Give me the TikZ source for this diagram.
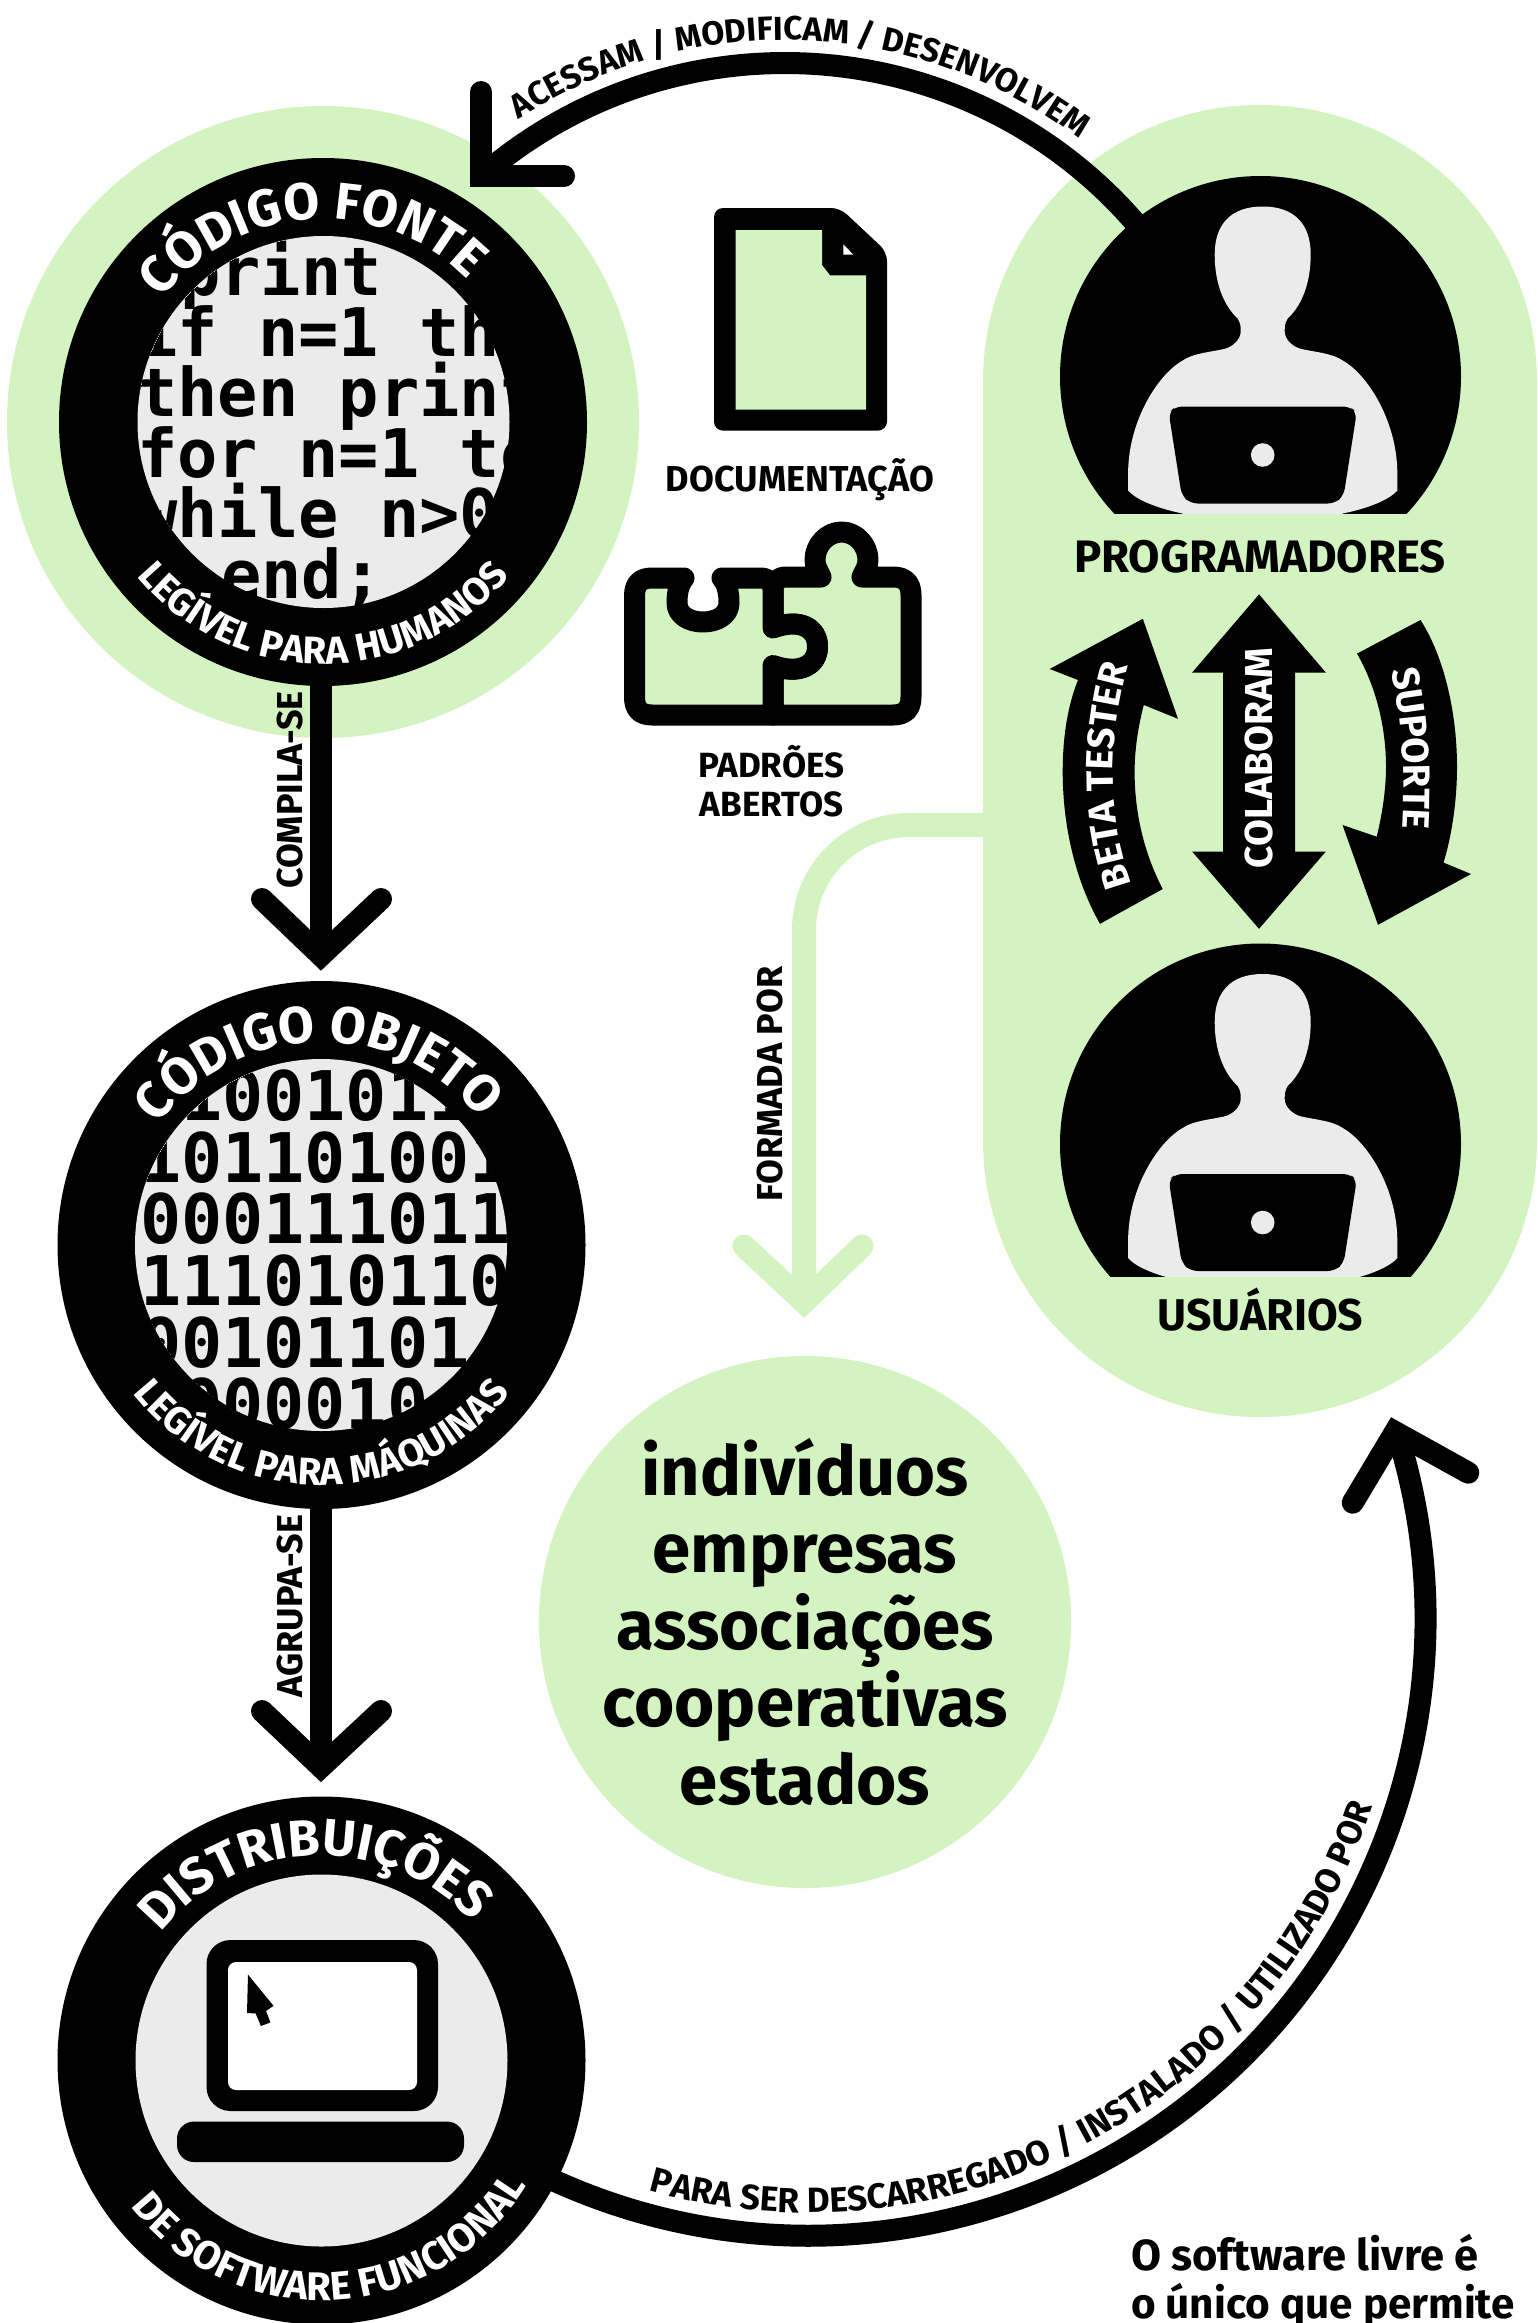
\documentclass[tikz,border=0pt]{standalone}
\usepackage{fontspec}
\setmainfont{Fira Sans}
\newfontfamily\codefam{DejaVu Sans Mono}
\usetikzlibrary{decorations.text,calc}
\definecolor{leaf}{HTML}{D3F4C0}
\definecolor{pale}{HTML}{EBEBEB}
\newcommand{\fsz}[1]{\bfseries\fontsize{#1}{#1}\selectfont}
\tikzset{
  x=1pt,y=1pt,
  ring/.style={circle,fill=black,inner sep=0pt,outer sep=0pt,minimum size=528pt},
  conn/.style={draw=black,line width=22pt,line cap=round,line join=miter},
  connflat/.style={draw=black,line width=22pt,line cap=butt},
  greenconn/.style={draw=leaf,line width=23pt,line cap=round,line join=miter},
  lbl/.style={font=\fsz{36},inner sep=0pt,text=black},
  code/.style={font=\codefam\fsz{67},inner sep=0pt,anchor=base west,text=black},
  bincode/.style={font=\codefam\fsz{68.4},inner sep=0pt,anchor=base west,text=black},
  whitearc/.style={decorate,decoration={text along path,text={#1},text align=center,text color=white}},
  blackarc/.style={decorate,decoration={text along path,text={#1},text align=center,text color=black}},
  puzzlepiece/.style={fill=leaf,draw=black,line width=21pt,line join=round},
  person/.pic={
    \begin{scope}
      \clip (-215,215) rectangle (215,-\pgfkeysvalueof{/tikz/cutline});
      \fill[black] (-2.2,0) circle[radius=200.5pt];
      \fill[pale] (0,170) .. controls (32,170) and (48,152) .. (48,122)
        .. controls (48,95) and (40,72) .. (25,58)
        .. controls (22,53) and (22,50) .. (22,45)
        .. controls (22,37) and (30,29.5) .. (38.7,27.5)
        .. controls (55,24) and (70,23) .. (80,16)
        .. controls (105,2) and (134.6,-45) .. (134.6,-97) -- (134.6,-114)
        .. controls (125,-125) and (100,-133) .. (80,-137) -- (80,-145) -- (-80,-145) -- (-80,-137)
        .. controls (-100,-133) and (-125,-125) .. (-134.6,-114) -- (-134.6,-97)
        .. controls (-134.6,-45) and (-105,2) .. (-80,16)
        .. controls (-70,23) and (-55,24) .. (-38.7,27.5)
        .. controls (-30,29.5) and (-22,37) .. (-22,45)
        .. controls (-22,50) and (-22,53) .. (-25,58)
        .. controls (-40,72) and (-48,95) .. (-48,122)
        .. controls (-48,152) and (-32,170) .. (0,170) -- cycle;
      \fill[black,rounded corners=7pt] (-94,-36) -- (-87,-30) -- (87,-30) -- (94,-36) -- (81,-119) -- (72,-127) -- (-72,-127) -- (-81,-119) -- cycle;
      \fill[pale] (0,-78.5) circle[radius=11.8pt];
    \end{scope}
  }
}
\pgfkeyssetvalue{/tikz/cutline}{136.5}
\begin{document}
\begin{tikzpicture}
\path[use as bounding box,clip] (0,0) rectangle (1537,-2323);
\fill[white] (0,0) rectangle (1537,-2323);

% green backgrounds
\fill[leaf] (323,-422) circle[radius=316pt];
\node[rectangle,rounded corners=277pt,fill=leaf,inner sep=0pt,outer sep=0pt,minimum width=554pt,minimum height=1312pt] (capsule) at (1260,-761) {};
\node[circle,fill=leaf,inner sep=0pt,outer sep=0pt,minimum size=532pt,align=center,font=\fsz{69},text=black] (people) at (805,-1622) {};

% ring nodes
\node[ring] (fonte) at (323,-422) {};
\node[ring] (objeto) at (321.5,-1245) {};
\node[ring] (distro) at (321.5,-2060.5) {};

% connectors
\coordinate (c1apex) at (321,-955.5);
\coordinate (c1l) at (262,-899);
\coordinate (c1r) at (381,-899);
\draw[connflat] (fonte.south) ++(-2,5) -- (c1apex);
\draw[conn] (c1l) -- (c1apex) -- (c1r);
\node[lbl,rotate=90] (lcomp) at (290,-790) {COMPILA-SE};

\coordinate (c2apex) at (321,-1767);
\coordinate (c2l) at (262,-1711);
\coordinate (c2r) at (381,-1711);
\draw[connflat] (objeto.south) ++(-0.5,5) -- (c2apex);
\draw[conn] (c2l) -- (c2apex) -- (c2r);
\node[lbl,rotate=90] (lagr) at (290,-1606) {AGRUPA-SE};

% formada por (green)
\coordinate (fs) at (990,-825);
\coordinate (fapex) at (804,-1302);
\coordinate (fl) at (744,-1246);
\coordinate (fr) at (862,-1246);
\draw[draw=leaf,line width=24pt,rounded corners=105pt] (fs) -- (804,-825) -- (fapex);
\draw[greenconn] (fl) -- (fapex) -- (fr);
\node[lbl,rotate=90] (lform) at (770,-1084) {FORMADA POR};

% top arc connector
\coordinate (tapex) at (481,-176);
\coordinate (tstart) at ($(785,-527)+(41.1:464)$);
\draw[connflat] (tstart) arc[start angle=41.1,end angle=130.9,radius=464pt];
\draw[conn] (481,-92) coordinate (tu) -- (tapex) -- (564,-176) coordinate (tr);
\path[blackarc={|\fsz{33.3}|ACESSAM / MODIFICAM / DESENVOLVEM}] (785,-527) ++(138:487) arc[start angle=138,end angle=38,radius=487pt];

% bottom arc connector
\coordinate (bstart) at ($(808.6,-1618.6)+(245.5:617)$);
\coordinate (bapex) at (1395,-1432);
\coordinate (bl) at (1352.7,-1502.7);
\coordinate (br) at (1468.3,-1472.7);
\draw[connflat] (bstart) arc[start angle=245.5,end angle=377.65,radius=617pt];
\draw[conn] (bl) -- (bapex) -- (br);
\path[blackarc={|\fsz{35}|PARA SER DESCARREGADO / INSTALADO / UTILIZADO POR}] (808.6,-1618.6) ++(238:594) arc[start angle=238,end angle=358,radius=594pt];

% inner discs and code
\fill[pale] (323.5,-422) circle[radius=186pt];
\begin{scope}
  \clip (323.5,-422) circle[radius=186pt];
  \node[code] (cl1) at (180,-295) {print};
  \node[code] (cl2) at (137,-356) {if n=1 then};
  \node[code] (cl3) at (137,-416) {then print};
  \node[code] (cl4) at (137,-477) {for n=1 to};
  \node[code] (cl5) at (137,-537.5) {while n>0};
  \node[code] (cl6) at (221,-598) {end;};
\end{scope}
\fill[pale] (321,-1245) circle[radius=186pt];
\begin{scope}
  \clip (321,-1245) circle[radius=186pt];
  \node[bincode] (bn1) at (181,-1120) {1001011};
  \node[bincode] (bn2) at (140,-1182) {101101001};
  \node[bincode] (bn3) at (140,-1243.5) {000111011};
  \node[bincode] (bn4) at (140,-1305) {111010110};
  \node[bincode] (bn5) at (140,-1367) {00101101};
  \node[bincode] (bn6) at (181,-1428) {000010};
\end{scope}
\fill[pale] (321.5,-2060.5) circle[radius=186pt];

% ring texts
\path[whitearc={|\fsz{52}|CÓDIGO FONTE}] (323,-422) ++(173.5:203) arc[start angle=173.5,end angle=13.5,radius=203pt];
\path[whitearc={|\fsz{38.5}|LEGÍVEL PARA HUMANOS}] (323,-422) ++(195:242) arc[start angle=195,end angle=345,radius=242pt];
\path[whitearc={|\fsz{52}|CÓDIGO OBJETO}] (321.5,-1245) ++(171:203) arc[start angle=171,end angle=11,radius=203pt];
\path[whitearc={|\fsz{38.5}|LEGÍVEL PARA MÁQUINAS}] (321.5,-1245) ++(195:240) arc[start angle=195,end angle=345,radius=240pt];
\path[whitearc={|\fsz{51.5}|DISTRIBUIÇÕES}] (321.5,-2060.5) ++(172:205) arc[start angle=172,end angle=12,radius=205pt];
\path[whitearc={|\fsz{40}|DE SOFTWARE FUNCIONAL}] (321.5,-2060.5) ++(198:240) arc[start angle=198,end angle=348,radius=240pt];

% computer
\fill[black,rounded corners=24pt] (206.5,-1940) rectangle (438,-2111);
\fill[white,rounded corners=8pt] (228,-1962) rectangle (417,-2090);
\fill[black,rounded corners=17pt] (177,-2121.5) rectangle (464,-2162);
\fill[black] (248,-1974.6) -- (273.5,-2005.8) -- (266,-2011) -- (270.4,-2022.4) -- (261,-2026) -- (255.6,-2013.4) -- (247,-2013) -- cycle;

% central text
\node[font=\fsz{68.5},text=black,anchor=base,inner sep=0pt] (p1) at (805,-1495) {indivíduos};
\node[font=\fsz{69},text=black,anchor=base,inner sep=0pt] (p2) at (805,-1572) {empresas};
\node[font=\fsz{69},text=black,anchor=base,inner sep=0pt] (p3) at (805,-1649) {associações};
\node[font=\fsz{69},text=black,anchor=base,inner sep=0pt] (p4) at (805,-1726) {cooperativas};
\node[font=\fsz{69},text=black,anchor=base,inner sep=0pt] (p5) at (805,-1804) {estados};

% document icon
\fill[black,rounded corners=9pt] (714,-208) -- (840,-208) -- (887,-252) -- (887,-430.6) -- (714,-430.6) -- cycle;
\fill[leaf] (735.7,-230) -- (822,-230) -- (822,-265) -- (830,-275.4) -- (866,-275.4) -- (866,-409.5) -- (735.7,-409.5) -- cycle;
\fill[white] (843.3,-244.3) -- (853.3,-254.7) -- (843.3,-254.7) -- cycle;
\node[font=\fsz{36},text=black,anchor=base,inner sep=0pt] (ldoc) at (800,-491) {DOCUMENTAÇÃO};

% puzzle
\path[puzzlepiece] (773,-590) .. controls (773,-582) and (778,-577) .. (786,-577) -- (821,-577)
  .. controls (818,-570) and (815,-567) .. (815,-560) .. controls (815,-545) and (827,-532) .. (841.7,-532)
  .. controls (856,-532) and (868,-545) .. (868,-560) .. controls (868,-567) and (865,-570) .. (862,-577)
  -- (893,-577) .. controls (905,-577) and (911,-583) .. (911,-595) -- (911,-697)
  .. controls (911,-709) and (905,-715) .. (893,-715) -- (773,-715) -- (773,-665.5)
  .. controls (800,-675) and (817.5,-665) .. (817.5,-646.7) .. controls (817.5,-628) and (800,-618) .. (773,-628) -- cycle;
\path[puzzlepiece] (634.5,-596) .. controls (634.5,-584) and (640,-578) .. (652,-578) -- (684,-578)
  .. controls (678,-585) and (677,-595) .. (677,-603) .. controls (677,-615) and (689,-622) .. (703,-622)
  .. controls (717,-622) and (729,-615) .. (729,-603) .. controls (729,-595) and (728,-585) .. (722,-578)
  -- (760,-578) .. controls (768,-578) and (773,-582) .. (773,-590) -- (773,-628)
  .. controls (800,-618) and (817.5,-628) .. (817.5,-646.7)
  .. controls (817.5,-665) and (800,-675) .. (773,-665.5) -- (773,-715) -- (652,-715)
  .. controls (640,-715) and (634.5,-709) .. (634.5,-697) -- cycle;
\node[font=\fsz{35},text=black,anchor=base,inner sep=0pt] (lpad1) at (771.5,-777.5) {PADRÕES};
\node[font=\fsz{35},text=black,anchor=base,inner sep=0pt] (lpad2) at (771.5,-816) {ABERTOS};

% people
\pic at (1262.7,-376.5) {person};
\node[font=\fsz{45.5},text=black,anchor=base,inner sep=0pt] (lprog) at (1260,-572) {PROGRAMADORES};
\pgfkeyssetvalue{/tikz/cutline}{132}
\pic at (1262.7,-1144) {person};
\node[font=\fsz{44.5},text=black,anchor=base,inner sep=0pt] (luser) at (1260.5,-1330.7) {USUÁRIOS};

% collaboration arrows
\fill[black] (1259,-594.4) -- (1325.8,-672.5) -- (1295,-672.5) -- (1295,-851.6) -- (1325.8,-851.6) -- (1259,-928.8) -- (1192.2,-851.6) -- (1223,-851.6) -- (1223,-672.5) -- (1192.2,-672.5) -- cycle;
\node[font=\fsz{39},text=white,rotate=90,inner sep=0pt] (lcol) at (1259,-758) {COLABORAM};
\fill[black] (1100,-923.8) .. controls (1075,-880) and (1062.7,-825) .. (1062.7,-772) .. controls (1062.7,-735) and (1068,-705) .. (1078,-680)
  -- (1049.7,-669) -- (1142.8,-618.8) -- (1178,-718.8) -- (1143.8,-705)
  .. controls (1138,-727) and (1134.6,-750) .. (1134.6,-772) .. controls (1134.6,-815) and (1145,-855) .. (1162.7,-889) -- cycle;
\path[whitearc={|\fsz{38}|BETA TESTER}] (1140,-905) .. controls (1118,-855) and (1113,-810) .. (1113,-775) .. controls (1113,-735) and (1120,-685) .. (1135,-645);
\fill[black] (1420.5,-620) .. controls (1443,-655) and (1457,-710) .. (1457,-767) .. controls (1457,-800) and (1452,-835) .. (1443.5,-862.6)
  -- (1471,-874) -- (1378,-924.8) -- (1342.5,-825) -- (1376.7,-836.7)
  .. controls (1382,-815) and (1386,-790) .. (1386,-767) .. controls (1386,-725) and (1375,-685) .. (1357,-653.6) -- cycle;
\path[whitearc={|\fsz{38}|SUPORTE}] (1384,-640) .. controls (1398,-690) and (1410,-760) .. (1400,-860);

% closing text
\node[font=\fsz{43.5},text=black,anchor=base west,inner sep=0pt] (end1) at (1131,-2270) {O software livre é};
\node[font=\fsz{42.2},text=black,anchor=base west,inner sep=0pt] (end2) at (1131,-2318) {o único que permite};
\end{tikzpicture}
\end{document}
